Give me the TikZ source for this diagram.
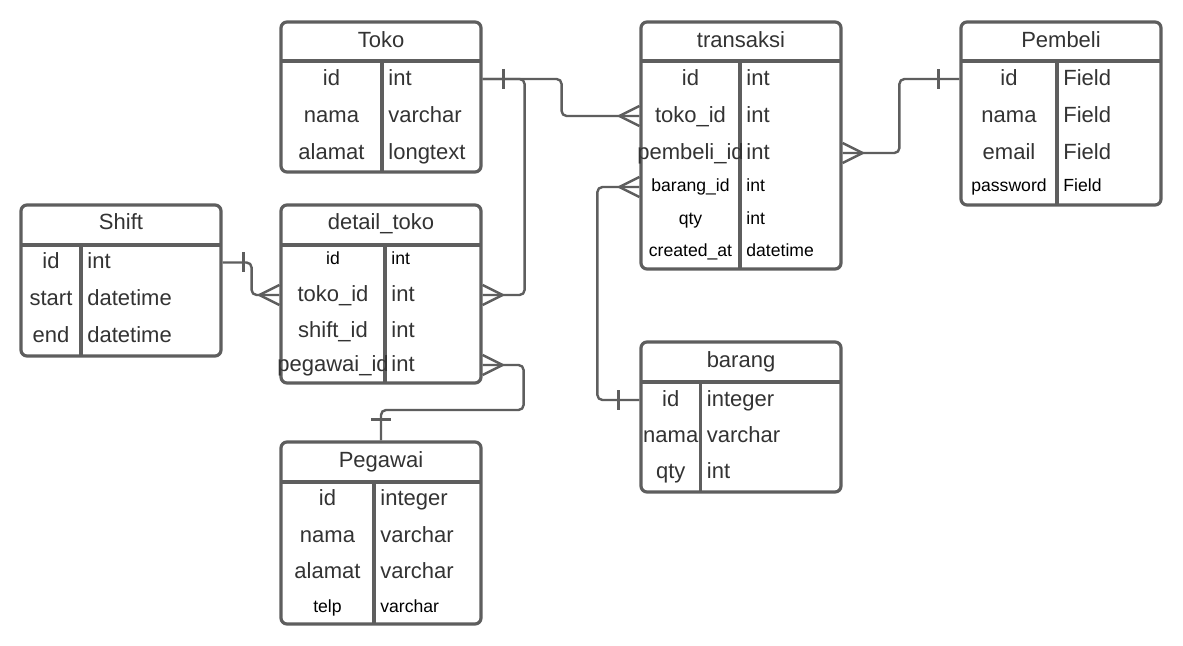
\documentclass[tikz,border=0pt]{standalone}
\usepackage{fontspec}
\setmainfont{Liberation Sans}
\definecolor{erline}{HTML}{5E5E5E}
\definecolor{ertext}{HTML}{333333}

\tikzset{
    crow/.pic={\draw[relend] (0,-10) -- (20,0) -- (0,10);},
    bar/.pic={\draw[relend] (21,-10) -- (21,10);}
}

\begin{document}
\begin{tikzpicture}
    % one unit = one pixel of the reference, y grows downwards
    [x=0.5pt,y=-0.5pt,
    tbl/.style={rectangle,draw=erline,line width=1.6pt,rounded corners=3pt,minimum width=100pt,inner sep=0pt},
    sep/.style={draw=erline,line width=1.6pt},
    head/.style={text=ertext,font=\fontsize{11pt}{13pt}\selectfont,text height=8.25pt,text depth=2.2pt,inner sep=0pt},
    keyL/.style={head},
    typL/.style={head,anchor=west,inner xsep=3pt},
    keyS/.style={head,text=black,font=\fontsize{8.8pt}{10pt}\selectfont,text height=6.6pt,text depth=1.76pt},
    typS/.style={keyS,anchor=west,inner xsep=3pt},
    rel/.style={draw=erline,line width=1.2pt,rounded corners=2.5pt},
    relend/.style={draw=erline,line width=1.2pt}]

    \fill[white] (0,0) rectangle (1183,646);
    \useasboundingbox (0,0) rectangle (1183,646);

    % Toko
    \node[tbl,minimum height=75pt] (toko) at (381,97) {};
    \node[head] (toko-h) at (381,41) {Toko};
    \draw[sep] (281,61) -- (481,61);
    \draw[sep] (382,61) -- (382,172);
    \foreach \y/\k/\t/\n/\s in {79/id/int/id/L,116/nama/varchar/nama/L,153/alamat/longtext/alamat/L}
    {\node[key\s] (tk-\n) at (331.5,\y) {\k};
     \node[typ\s] at (382,\y) {\t};}

    % transaksi
    \node[tbl,minimum height=123.5pt] (transaksi) at (741,145.5) {};
    \node[head] (transaksi-h) at (741,41) {transaksi};
    \draw[sep] (641,61) -- (841,61);
    \draw[sep] (740,61) -- (740,269);
    \foreach \y/\k/\t/\n/\s in {79/id/int/id/L,116/toko\_id/int/tokoid/L,153/pembeli\_id/int/pembeliid/L,
        187/barang\_id/int/barangid/S,220/qty/int/qty/S,252/created\_at/datetime/createdat/S}
    {\node[key\s] (tr-\n) at (690.5,\y) {\k};
     \node[typ\s] at (740,\y) {\t};}

    % Pembeli
    \node[tbl,minimum height=91.5pt] (pembeli) at (1061,113.5) {};
    \node[head] (pembeli-h) at (1061,41) {Pembeli};
    \draw[sep] (961,61) -- (1161,61);
    \draw[sep] (1057,61) -- (1057,205);
    \foreach \y/\k/\t/\n/\s in {79/id/Field/id/L,116/nama/Field/nama/L,153/email/Field/email/L,187/password/Field/password/S}
    {\node[key\s] (pb-\n) at (1009,\y) {\k};
     \node[typ\s] at (1057,\y) {\t};}

    % Shift
    \node[tbl,minimum height=75.5pt] (shift) at (121,280.5) {};
    \node[head] (shift-h) at (121,223) {Shift};
    \draw[sep] (21,245) -- (221,245);
    \draw[sep] (81,245) -- (81,356);
    \foreach \y/\k/\t/\n/\s in {262.5/id/int/id/L,299/start/datetime/start/L,336/end/datetime/end/L}
    {\node[key\s] (sh-\n) at (51,\y) {\k};
     \node[typ\s] at (81,\y) {\t};}

    % detail_toko
    \node[tbl,minimum height=89pt] (detail) at (381,294) {};
    \node[head] (detail-h) at (381,223) {detail\_toko};
    \draw[sep] (281,245) -- (481,245);
    \draw[sep] (385,245) -- (385,383);
    \foreach \y/\k/\t/\n/\s in {260/id/int/id/S,295/toko\_id/int/tokoid/L,331/shift\_id/int/shiftid/L,365/pegawai\_id/int/pegawaiid/L}
    {\node[key\s] (dt-\n) at (333,\y) {\k};
     \node[typ\s] at (385,\y) {\t};}

    % Pegawai
    \node[tbl,minimum height=91pt] (pegawai) at (381,533) {};
    \node[head] (pegawai-h) at (381,461) {Pegawai};
    \draw[sep] (281,482) -- (481,482);
    \draw[sep] (374,482) -- (374,624);
    \foreach \y/\k/\t/\n/\s in {499/id/integer/id/L,536/nama/varchar/nama/L,572.5/alamat/varchar/alamat/L,608/telp/varchar/telp/S}
    {\node[key\s] (pg-\n) at (327.5,\y) {\k};
     \node[typ\s] at (374,\y) {\t};}

    % barang
    \node[tbl,minimum height=75pt] (barang) at (741,417) {};
    \node[head] (barang-h) at (741,361) {barang};
    \draw[sep] (641,382) -- (841,382);
    \draw[sep] (700.5,382) -- (700.5,492);
    \foreach \y/\k/\t/\n/\s in {400/id/integer/id/L,436/nama/varchar/nama/L,472/qty/int/qty/L}
    {\node[key\s] (br-\n) at (670.75,\y) {\k};
     \node[typ\s] at (700.5,\y) {\t};}

    % relasi
    \draw[rel] (toko.east |- tk-id) -- ++(79,0) |- (transaksi.west |- tr-tokoid);
    \draw[rel] (toko.east |- tk-id) -- ++(42,0) |- (detail.east |- dt-tokoid);
    \draw[rel] (pembeli.west |- pb-id) -- ++(-60,0) |- (transaksi.east |- tr-pembeliid);
    \draw[rel] (barang.west |- br-id) -- ++(-42,0) |- (transaksi.west |- tr-barangid);
    \draw[rel] (shift.east |- sh-id) -- ++(29,0) |- (detail.west |- dt-tokoid);
    \draw[rel] (detail.east |- dt-pegawaiid) -- ++(41,0) -- ++(0,45) -| (pegawai.north);

    % ujung relasi
    \pic at (toko.east |- tk-id) {bar};
    \pic[rotate=180] at (pembeli.west |- pb-id) {bar};
    \pic[rotate=180] at (barang.west |- br-id) {bar};
    \pic at (shift.east |- sh-id) {bar};
    \pic[rotate=90] at (pegawai.north) {bar};
    \pic[rotate=180] at (transaksi.west |- tr-tokoid) {crow};
    \pic[rotate=180] at (transaksi.west |- tr-barangid) {crow};
    \pic at (transaksi.east |- tr-pembeliid) {crow};
    \pic at (detail.east |- dt-tokoid) {crow};
    \pic at (detail.east |- dt-pegawaiid) {crow};
    \pic[rotate=180] at (detail.west |- dt-tokoid) {crow};
\end{tikzpicture}
\end{document}
